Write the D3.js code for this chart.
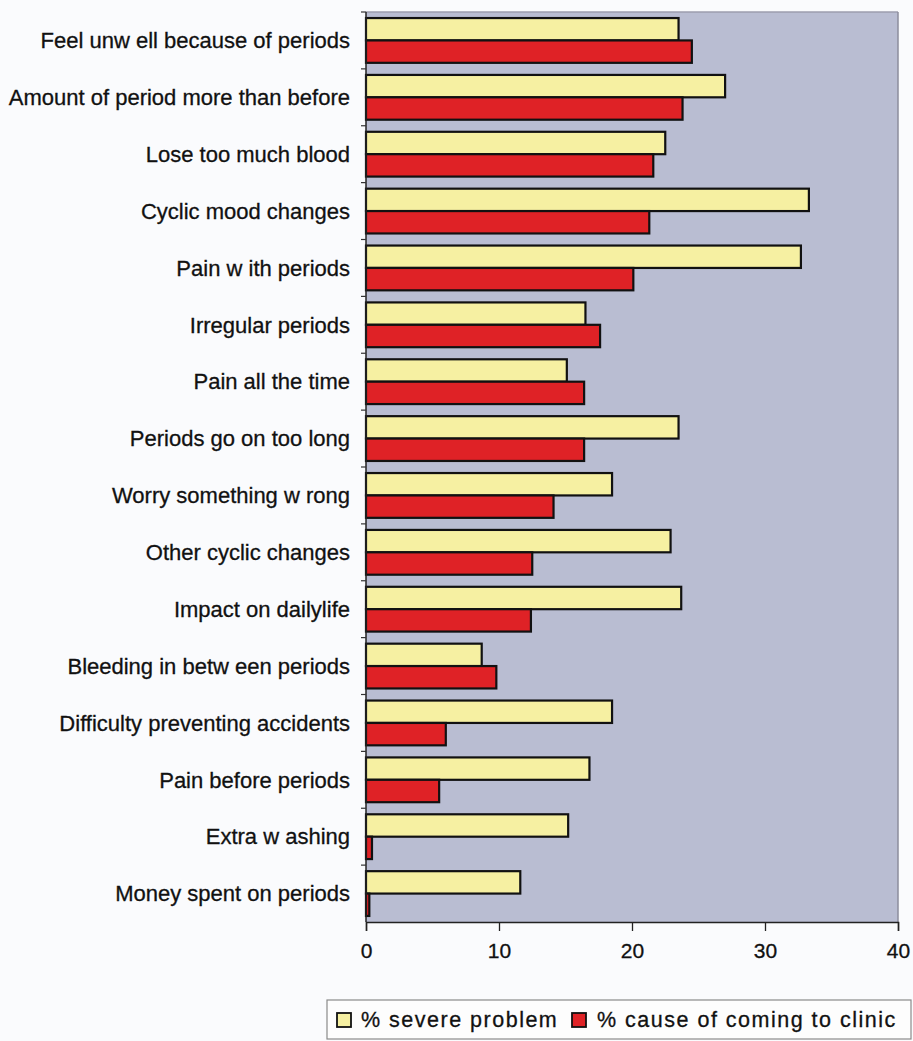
<!DOCTYPE html>
<html>
<head>
<meta charset="utf-8">
<script src="https://cdn.jsdelivr.net/npm/d3@7"></script>
<style>
  html, body { margin: 0; padding: 0; background: #fafbfd; }
  svg { display: block; font-family: "Liberation Sans", Arial, sans-serif; }
</style>
</head>
<body>
<svg id="chart" width="913" height="1041"></svg>
<script>
// Reasons reported, top to bottom
const categories = [
  "Feel unw ell because of periods",
  "Amount of period more than before",
  "Lose too much blood",
  "Cyclic mood changes",
  "Pain w ith periods",
  "Irregular periods",
  "Pain all the time",
  "Periods go on too long",
  "Worry something w rong",
  "Other cyclic changes",
  "Impact on dailylife",
  "Bleeding in betw een periods",
  "Difficulty preventing accidents",
  "Pain before periods",
  "Extra w ashing",
  "Money spent on periods"
];
const seriesNames = ["% severe problem", "% cause of coming to clinic"];
const severeProblem = [23.5, 27.0, 22.5, 33.3, 32.7, 16.5, 15.1, 23.5, 18.5, 22.9, 23.7, 8.7, 18.5, 16.8, 15.2, 11.6];
const causeOfClinic = [24.5, 23.8, 21.6, 21.3, 20.1, 17.6, 16.4, 16.4, 14.1, 12.5, 12.4, 9.8, 6.0, 5.5, 0.45, 0.25];
const xTicks = [0, 10, 20, 30, 40];
const seriesColors = ["#f6f0a2", "#df2226"];

const svg = d3.select("#chart");
const plot = { left: 366, right: 898, top: 12, bottom: 922 };

const x = d3.scaleLinear().domain([0, 40]).range([plot.left, plot.right]);
const y0 = d3.scaleBand().domain(categories).range([plot.top, plot.bottom]).padding(0);
const y1 = d3.scaleBand().domain(seriesNames).range([0, y0.bandwidth()])
  .paddingInner(0).paddingOuter(0.27);

// Plot background
svg.append("rect")
  .attr("x", plot.left).attr("y", plot.top)
  .attr("width", plot.right - plot.left).attr("height", plot.bottom - plot.top)
  .attr("fill", "#b9bdd2");
svg.append("line")
  .attr("x1", plot.left).attr("x2", plot.right)
  .attr("y1", plot.top).attr("y2", plot.top)
  .attr("stroke", "#9c9eae").attr("stroke-width", 1.5);
svg.append("line")
  .attr("x1", plot.right).attr("x2", plot.right)
  .attr("y1", plot.top).attr("y2", plot.bottom)
  .attr("stroke", "#8c8e9c").attr("stroke-width", 1.5);

// Bars
const rows = categories.map((c, i) => ({ cat: c, vals: [severeProblem[i], causeOfClinic[i]] }));
const g = svg.append("g");
rows.forEach(r => {
  r.vals.forEach((v, j) => {
    g.append("rect")
      .attr("x", x(0))
      .attr("y", y0(r.cat) + y1(seriesNames[j]))
      .attr("width", x(v) - x(0))
      .attr("height", y1.bandwidth())
      .attr("fill", seriesColors[j])
      .attr("stroke", "#111")
      .attr("stroke-width", 2.2);
  });
});

// Category axis (ticks at category boundaries)
const yAxisG = svg.append("g");
yAxisG.append("line")
  .attr("x1", plot.left).attr("x2", plot.left)
  .attr("y1", plot.top).attr("y2", plot.bottom)
  .attr("stroke", "#222").attr("stroke-width", 1.5);
categories.forEach((c, i) => {
  yAxisG.append("line")
    .attr("x1", plot.left - 5).attr("x2", plot.left)
    .attr("y1", y0(c)).attr("y2", y0(c))
    .attr("stroke", "#333").attr("stroke-width", 1.2);
  yAxisG.append("text")
    .attr("x", 350)
    .attr("y", y0(c) + y0.bandwidth() / 2)
    .attr("dy", "0.35em")
    .attr("text-anchor", "end")
    .attr("font-size", 22)
    .attr("fill", "#111")
    .attr("stroke", "#111").attr("stroke-width", 0.3)
    .text(c);
});

// Value axis
const xAxis = d3.axisBottom(x).tickValues(xTicks).tickSize(9).tickPadding(12).tickFormat(d3.format("d"));
const xAxisG = svg.append("g")
  .attr("transform", `translate(0,${plot.bottom})`)
  .call(xAxis);
xAxisG.select(".domain").attr("stroke", "#222").attr("stroke-width", 1.5);
xAxisG.selectAll(".tick line").attr("stroke", "#222").attr("stroke-width", 1.3);
xAxisG.selectAll(".tick text")
  .attr("font-size", 21)
  .attr("font-family", "'Liberation Sans', Arial, sans-serif")
  .attr("fill", "#111")
  .attr("stroke", "#111").attr("stroke-width", 0.3);

// Legend
const legend = svg.append("g");
legend.append("rect")
  .attr("x", 327).attr("y", 1000)
  .attr("width", 584).attr("height", 39)
  .attr("fill", "#fdfdfd").attr("stroke", "#8a8a8a").attr("stroke-width", 1.2);
const legendItems = [
  { name: seriesNames[0], color: seriesColors[0], sx: 337, tx: 361 },
  { name: seriesNames[1], color: seriesColors[1], sx: 572, tx: 597 }
];
legendItems.forEach(it => {
  legend.append("rect")
    .attr("x", it.sx).attr("y", 1013)
    .attr("width", 14).attr("height", 14)
    .attr("fill", it.color).attr("stroke", "#111").attr("stroke-width", 1.8);
  legend.append("text")
    .attr("x", it.tx).attr("y", 1027)
    .attr("font-size", 21.5)
    .attr("letter-spacing", "1.5px")
    .attr("fill", "#111")
    .attr("stroke", "#111").attr("stroke-width", 0.3)
    .text(it.name);
});
</script>
</body>
</html>
